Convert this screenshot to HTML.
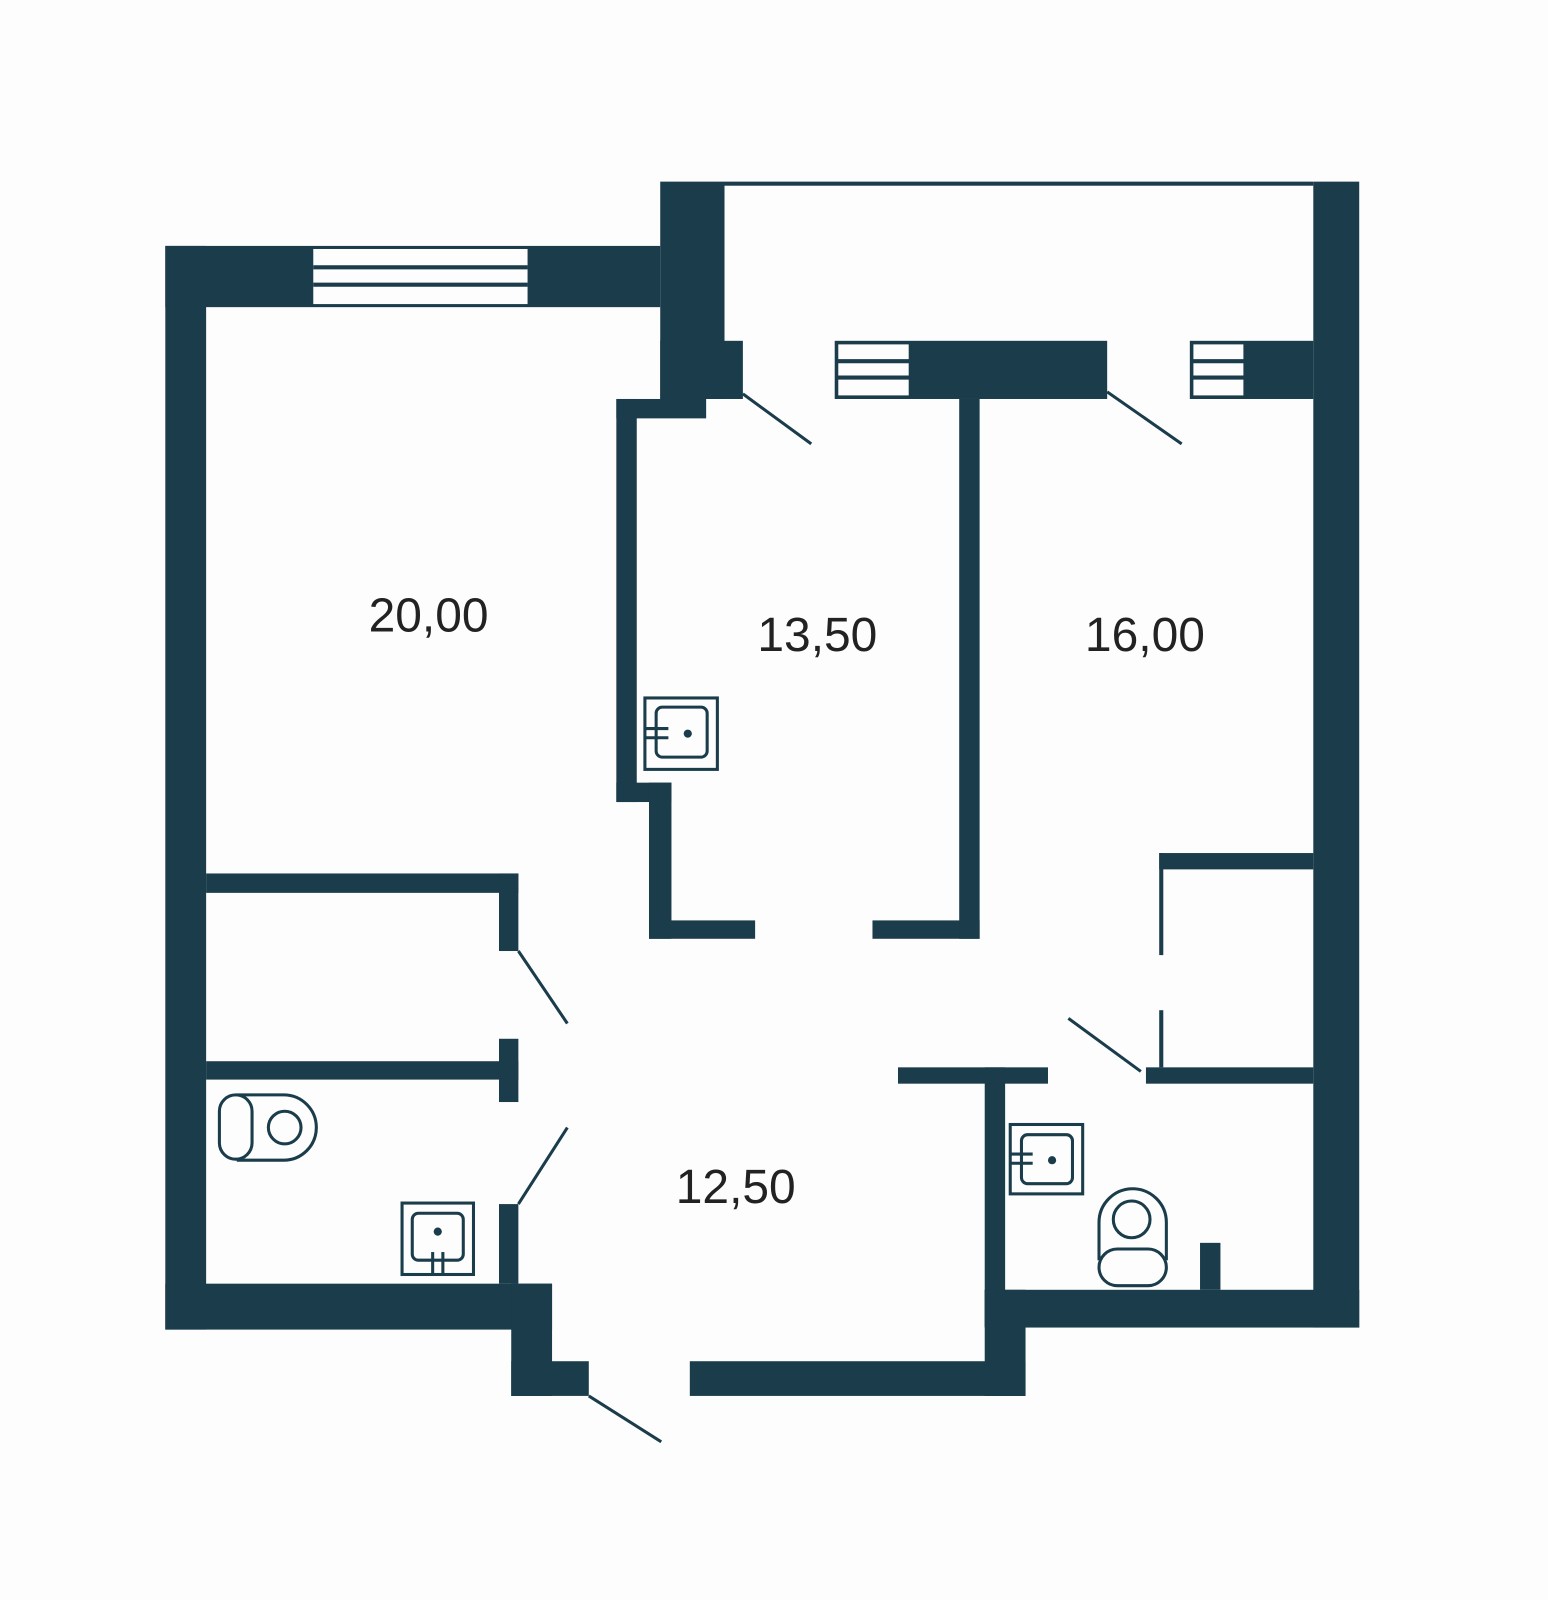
<!DOCTYPE html>
<html><head><meta charset="utf-8"><style>html,body{margin:0;padding:0;background:#fdfdfd}svg{display:block}</style></head><body>
<svg width="1548" height="1600" viewBox="0 0 1517 1568" preserveAspectRatio="none" xmlns="http://www.w3.org/2000/svg">
<rect width="1517" height="1568" fill="#fdfdfd"/>
<g fill="#1a3c4b">
<rect x="162" y="241" width="485" height="60"/>
<rect x="162" y="241" width="40" height="1062"/>
<rect x="162" y="1258" width="379" height="45"/>
<rect x="501" y="1258" width="40" height="110"/>
<rect x="501" y="1334" width="76" height="34"/>
<rect x="647" y="178" width="63" height="213"/>
<rect x="647" y="334" width="81" height="57"/>
<rect x="710" y="178" width="577" height="4"/>
<rect x="1287" y="178" width="45" height="1123"/>
<rect x="604" y="391" width="88" height="19"/>
<rect x="604" y="391" width="20" height="395"/>
<rect x="604" y="767" width="54" height="19"/>
<rect x="636" y="767" width="22" height="153"/>
<rect x="636" y="902" width="104" height="18"/>
<rect x="855" y="902" width="105" height="18"/>
<rect x="940" y="391" width="20" height="529"/>
<rect x="818" y="334" width="267" height="57"/>
<rect x="1166" y="334" width="121" height="57"/>
<rect x="202" y="856" width="306" height="19"/>
<rect x="489" y="856" width="19" height="76"/>
<rect x="202" y="1040" width="306" height="18"/>
<rect x="489" y="1018" width="19" height="62"/>
<rect x="489" y="1180" width="19" height="78"/>
<rect x="676" y="1334" width="329" height="34"/>
<rect x="965" y="1264" width="40" height="104"/>
<rect x="965" y="1046" width="20" height="254"/>
<rect x="965" y="1264" width="367" height="37"/>
<rect x="880" y="1046" width="147" height="16"/>
<rect x="1123" y="1046" width="164" height="16"/>
<rect x="1136" y="836" width="151" height="16"/>
<rect x="1136" y="836" width="4" height="100"/>
<rect x="1136" y="990" width="4" height="56"/>
<rect x="1176" y="1218" width="20" height="46"/>
</g>
<g fill="#fdfdfd" stroke="#1a3c4b" stroke-width="3">
<rect x="307" y="244" width="210" height="54" stroke="none"/>
<rect x="820" y="336" width="72" height="53"/>
<rect x="1168" y="336" width="52" height="53"/>
</g>
<g stroke="#1a3c4b" stroke-width="4">
<line x1="307" y1="262" x2="517" y2="262"/><line x1="307" y1="279" x2="517" y2="279"/>
<line x1="820" y1="354" x2="892" y2="354"/><line x1="820" y1="370" x2="892" y2="370"/>
<line x1="1168" y1="354" x2="1220" y2="354"/><line x1="1168" y1="370" x2="1220" y2="370"/>
</g>
<g stroke="#1a3c4b" stroke-width="3">
<line x1="728" y1="386" x2="795" y2="435"/>
<line x1="1085" y1="384" x2="1158" y2="435"/>
<line x1="508" y1="932" x2="556" y2="1003"/>
<line x1="508" y1="1180" x2="556" y2="1105"/>
<line x1="577" y1="1368" x2="648" y2="1413"/>
<line x1="1047" y1="998" x2="1118" y2="1050"/>
</g>
<g fill="none" stroke="#1a3c4b" stroke-width="3">
<rect x="215" y="1073" width="32" height="63" rx="16"/>
<path d="M232 1073 H278 A32 32 0 0 1 278 1137 H232"/>
<circle cx="279" cy="1105" r="16"/>
<rect x="394" y="1179" width="70" height="70"/>
<rect x="404" y="1189" width="50" height="46" rx="6"/>
<line x1="424" y1="1227" x2="424" y2="1249"/><line x1="434" y1="1227" x2="434" y2="1249"/>
<rect x="632" y="684" width="71" height="70"/>
<rect x="643" y="693" width="50" height="49" rx="6"/>
<line x1="632" y1="714" x2="655" y2="714"/><line x1="632" y1="723" x2="655" y2="723"/>
<rect x="990" y="1102" width="71" height="68"/>
<rect x="1001" y="1112" width="50" height="48" rx="6"/>
<line x1="990" y1="1131" x2="1012" y2="1131"/><line x1="990" y1="1140" x2="1012" y2="1140"/>
<path d="M1077 1235 V1198 A33 33 0 0 1 1143 1198 V1235"/>
<rect x="1077" y="1224" width="66" height="36" rx="18"/>
<circle cx="1109" cy="1195" r="18"/>
</g>
<g fill="#1a3c4b">
<circle cx="429" cy="1207" r="4"/>
<circle cx="674" cy="719" r="4"/>
<circle cx="1031" cy="1137" r="4"/>
</g>
<g font-family="Liberation Sans, sans-serif" font-size="47" fill="#222" text-anchor="middle">
<text x="420" y="619">20,00</text>
<text x="801" y="638">13,50</text>
<text x="1122" y="638">16,00</text>
<text x="721" y="1179">12,50</text>
</g>
</svg>
</body></html>
